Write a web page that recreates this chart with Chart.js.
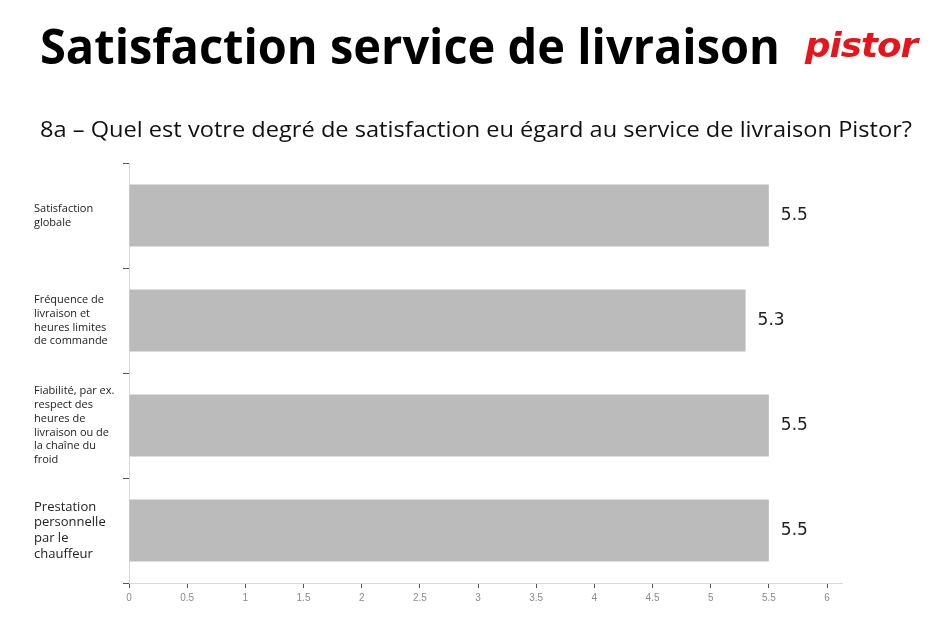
<!DOCTYPE html>
<html>
<head>
<meta charset="utf-8">
<script src="https://cdn.jsdelivr.net/npm/chart.js@4"></script>
<style>
  html, body { margin:0; padding:0; background:#fff; }
  #wrap { position:relative; width:952px; height:634px; overflow:hidden; }
  #wrap canvas { position:absolute; left:0; top:0; }
  .txt { position:absolute; white-space:nowrap; line-height:1; transform-origin:0 0; }
  #title { left:40px; top:22px; font-family:"Open Sans"; font-weight:700; font-size:48px; color:#000; }
  #sub { left:40px; top:119px; font-family:"Open Sans"; font-weight:400; font-size:21px; color:#111; }
  #logo { left:805px; top:28px; font-family:"DejaVu Sans"; font-weight:700; font-style:italic; font-size:34px; color:#e8141b; letter-spacing:-1px; }
</style>
</head>
<body>
<div id="wrap">
  <canvas id="c" width="952" height="634"></canvas>
  <div class="txt" id="title" data-w="740">Satisfaction service de livraison</div>
  <div class="txt" id="sub" data-w="872">8a – Quel est votre degré de satisfaction eu égard au service de livraison Pistor?</div>
  <div class="txt" id="logo" data-w="112">pistor</div>
</div>
<script>
const categories = [
  ["Satisfaction", "globale"],
  ["Fréquence de", "livraison et", "heures limites", "de commande"],
  ["Fiabilité, par ex.", "respect des", "heures de", "livraison ou de", "la chaîne du", "froid"],
  ["Prestation", "personnelle", "par le", "chauffeur"]
];
const values = [5.5, 5.3, 5.5, 5.5];
const xMax = 6;
const xStep = 0.5;

document.querySelectorAll('.txt').forEach(el => {
  const w = el.getBoundingClientRect().width;
  const target = parseFloat(el.dataset.w);
  el.style.transform = 'scaleX(' + (target / w) + ')';
});

const valueLabels = {
  id: 'valueLabels',
  afterDatasetsDraw(chart) {
    const ctx = chart.ctx;
    const meta = chart.getDatasetMeta(0);
    ctx.save();
    ctx.font = '17px "DejaVu Sans"';
    ctx.fillStyle = '#222';
    ctx.textAlign = 'left';
    ctx.textBaseline = 'middle';
    meta.data.forEach((bar, i) => {
      ctx.fillText(String(values[i]), bar.x + 12, bar.y);
    });
    ctx.restore();
  }
};

const axisExtend = {
  id: 'axisExtend',
  afterDraw(chart) {
    const a = chart.chartArea, ctx = chart.ctx;
    ctx.save();
    ctx.strokeStyle = '#d8d8d8';
    ctx.lineWidth = 1;
    ctx.beginPath();
    ctx.moveTo(a.right, a.bottom + 0.5);
    ctx.lineTo(a.right + 16, a.bottom + 0.5);
    ctx.stroke();
    ctx.restore();
  }
};

new Chart(document.getElementById('c'), {
  type: 'bar',
  data: {
    labels: categories,
    datasets: [{
      data: values,
      backgroundColor: '#bbbbbb',
      borderWidth: 0,
      barPercentage: 0.59,
      categoryPercentage: 1.0
    }]
  },
  options: {
    indexAxis: 'y',
    responsive: false,
    animation: false,
    layout: { padding: { left: 34, top: 163, right: 125, bottom: 0 } },
    plugins: { legend: { display: false }, tooltip: { enabled: false } },
    scales: {
      x: {
        min: 0, max: xMax,
        ticks: {
          stepSize: xStep,
          color: '#8a8a8a',
          font: { family: 'Liberation Sans', size: 10 },
          padding: 4,
          maxRotation: 0,
          callback: (v) => String(Number(v))
        },
        grid: { drawOnChartArea: false, drawTicks: true, tickLength: 5, color: '#555' },
        border: { color: '#d8d8d8' },
        afterFit(s) { s.height = 51; }
      },
      y: {
        ticks: {
          crossAlign: 'far',
          color: '#222',
          padding: 8,
          font: (ctx) => ctx.index === 3
            ? { family: 'Open Sans', size: 13, lineHeight: 1.2 }
            : { family: 'Open Sans', size: 11, lineHeight: 1.25 }
        },
        grid: { drawOnChartArea: false, drawTicks: true, tickLength: 6, offset: true, color: '#555' },
        border: { color: '#d8d8d8' },
        afterFit(s) { s.width = 95; }
      }
    }
  },
  plugins: [valueLabels, axisExtend]
});
</script>
</body>
</html>
